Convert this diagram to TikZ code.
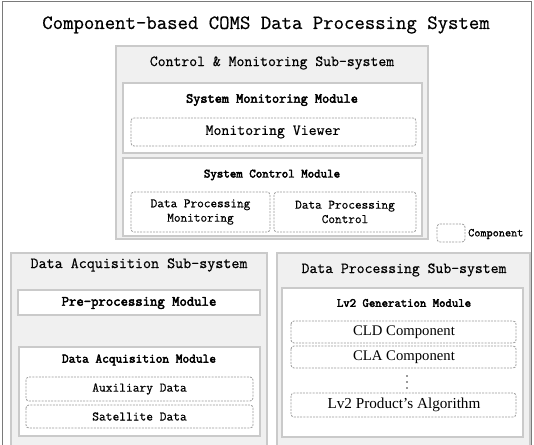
\documentclass[tikz,border=0pt]{standalone}
\usepackage{fontspec}
\setmainfont{Liberation Serif}
\newfontfamily\monoreg{Latin Modern Mono}[FakeBold=0.6]
\newfontfamily\monobold{Latin Modern Mono}[FakeBold=3]
\definecolor{subfill}{HTML}{F0F0F0}
\definecolor{subline}{HTML}{CACACA}
\definecolor{dashline}{HTML}{9A9A9A}
\definecolor{outline}{HTML}{7A7A7A}
\newcommand{\fs}[1]{\fontsize{#1bp}{#1bp}\selectfont}
\begin{document}
\begin{tikzpicture}[x=1bp,y=-1bp,
  subsys/.style={draw=subline,fill=subfill,line width=1.4bp},
  modbox/.style={draw=subline,fill=white,line width=1.2bp},
  compbox/.style={draw=dashline,fill=white,dashed,dash pattern=on 2bp off 1.2bp,rounded corners=3bp,line width=0.8bp},
  txt/.style={inner sep=0pt,text=black},
  stxt/.style={inner sep=0pt,text=black,align=center}]
\useasboundingbox (0,0) rectangle (534,445);
\begin{scope}
\clip (0,0) rectangle (534,445);
\draw[outline,line width=1bp] (2,460) -- (2,2) -- (531,2) -- (531,460);
% title
\node[txt,font=\monoreg\fs{20.2}] (title) at (266,25) {Component-based COMS Data Processing System};
% Control & Monitoring
\path[subsys] (116,46) rectangle (428,239);
\node[txt,font=\monoreg\fs{15.3}] (cmtitle) at (272,63) {Control \& Monitoring Sub-system};
\path[modbox] (123,83) rectangle (422,153);
\node[txt,font=\monobold\fs{13.9}] (smtitle) at (272,100) {System Monitoring Module};
\path[compbox] (131,118) rectangle (416,146);
\node[txt,font=\monoreg\fs{15.4}] (mv) at (273,132) {Monitoring Viewer};
\path[modbox] (123,158) rectangle (422,236);
\node[txt,font=\monobold\fs{12.6}] (sctitle) at (272,175) {System Control Module};
\path[compbox] (131,192) rectangle (270,232);
\path[compbox] (274,192) rectangle (416,232);
\node[txt,font=\monoreg\fs{12.9},align=center] (dpm) at (200.5,212) {Data Processing\\[1.5bp]Monitoring};
\node[txt,font=\monoreg\fs{12.9},align=center] (dpc) at (345,212) {Data Processing\\[1.5bp]Control};
% legend
\path[compbox] (437,224) rectangle (465,242);
\node[txt,font=\monoreg\fs{11.9},anchor=west] (legend) at (468,234) {Component};
% Data Acquisition
\path[subsys] (11,253) rectangle (267,460);
\node[txt,font=\monoreg\fs{15.6}] (datitle) at (139,265) {Data Acquisition Sub-system};
\path[modbox] (18,290) rectangle (260,315);
\node[txt,font=\monobold\fs{14.3}] (pp) at (139,303) {Pre-processing Module};
\path[modbox] (19,347) rectangle (260,436);
\node[txt,font=\monobold\fs{13}] (damtitle) at (139,360) {Data Acquisition Module};
\path[compbox] (26,377) rectangle (253,401);
\node[txt,font=\monoreg\fs{13.1}] (aux) at (139.5,389) {Auxiliary Data};
\path[compbox] (26,405) rectangle (253,428);
\node[txt,font=\monoreg\fs{13.1}] (sat) at (139.5,416.5) {Satellite Data};
% Data Processing
\path[subsys] (277,253) rectangle (530,460);
\node[txt,font=\monoreg\fs{15.3}] (dptitle) at (404,270) {Data Processing Sub-system};
\path[modbox] (282,288) rectangle (523,437);
\node[txt,font=\monobold\fs{12.4}] (lv2title) at (404,303) {Lv2 Generation Module};
\path[compbox] (291,321) rectangle (516,343);
\node[stxt,font=\rmfamily\fs{14.7}] (cld) at (404,332) {CLD Component};
\path[compbox] (291,346) rectangle (516,368);
\node[stxt,font=\rmfamily\fs{14.7}] (cla) at (404,357) {CLA Component};
\foreach \yy in {376,382,388} \fill[black!80] (407,\yy) circle (0.8bp);
\path[compbox] (291,393) rectangle (516,417);
\node[stxt,font=\rmfamily\fs{15.2}] (lv2pa) at (404,405) {Lv2 Product's Algorithm};
\end{scope}
\end{tikzpicture}
\end{document}
